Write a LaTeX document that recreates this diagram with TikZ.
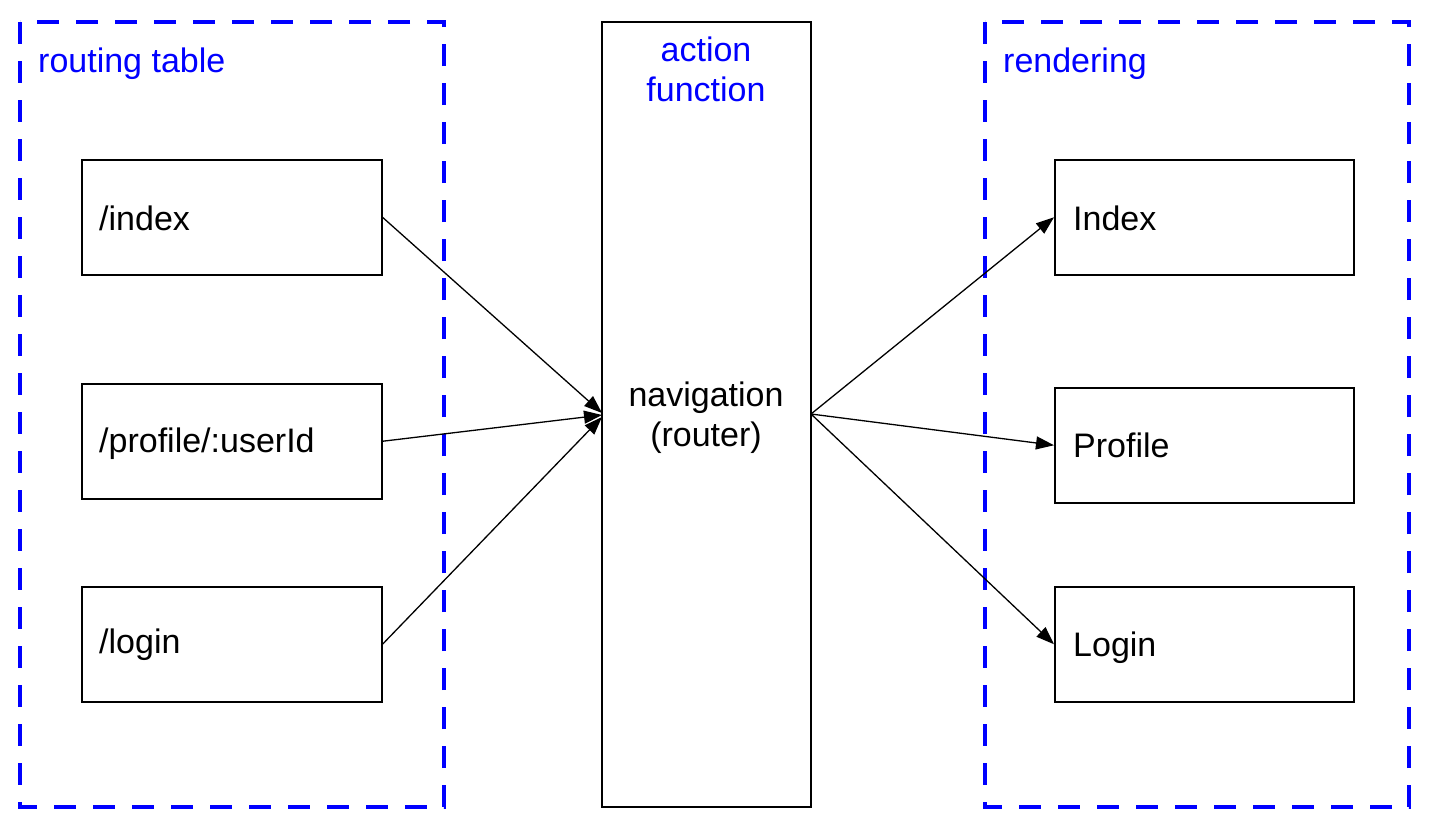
\documentclass[tikz,border=0pt]{standalone}
\usepackage{fontspec}
\setmainfont{Liberation Sans}
\usetikzlibrary{arrows.meta}
\begin{document}
\begin{tikzpicture}[x=1pt,y=-1pt,
  group/.style={draw=blue,line width=4pt,dash pattern=on 22pt off 17pt},
  box/.style={draw=black,line width=1.5pt},
  lbl/.style={anchor=base west,inner sep=0pt,font=\fontsize{34}{40}\selectfont},
  glbl/.style={lbl,text=blue},
  conn/.style={draw=black,line width=1.3pt,-{Triangle[length=18pt,width=13pt]}}]
\useasboundingbox (0,0) rectangle (1440,836);
% group frames
\draw[group] (20,22) rectangle (444,807);
\draw[group] (985,22) rectangle (1409,807);
% centre box
\draw[box] (602,22) rectangle (811,807);
\coordinate (nin1) at (602,413);
\coordinate (nin2) at (602,415);
\coordinate (nin3) at (602,417);
\coordinate (nout) at (811,414);
% left boxes
\node[box,minimum width=300pt,minimum height=115pt,anchor=north west,inner sep=0pt] (idx) at (81,159) {};
\node[box,minimum width=300pt,minimum height=115pt,anchor=north west,inner sep=0pt] (prof) at (81,383) {};
\node[box,minimum width=300pt,minimum height=115pt,anchor=north west,inner sep=0pt] (login) at (81,586) {};
% right boxes
\node[box,minimum width=299pt,minimum height=115pt,anchor=north west,inner sep=0pt] (rIdx) at (1054,159) {};
\node[box,minimum width=299pt,minimum height=115pt,anchor=north west,inner sep=0pt] (rProf) at (1054,387) {};
\node[box,minimum width=299pt,minimum height=115pt,anchor=north west,inner sep=0pt] (rLogin) at (1054,586) {};
% labels
\node[glbl] (tRouting) at (38,72) {routing table};
\node[glbl] (tRendering) at (1003,72) {rendering};
\node[glbl,anchor=base] (tAction1) at (706,61) {action};
\node[glbl,anchor=base] (tAction2) at (706,101) {function};
\node[lbl,anchor=base] (tNav1) at (706,406) {navigation};
\node[lbl,anchor=base] (tNav2) at (706,446) {(router)};
\node[lbl] (tIdx) at (99,230) {/index};
\node[lbl] (tProf) at (99,452) {/profile/:userId};
\node[lbl] (tLogin) at (99,653) {/login};
\node[lbl] (tRIdx) at (1073,230) {Index};
\node[lbl] (tRProf) at (1073,457) {Profile};
\node[lbl] (tRLogin) at (1073,656) {Login};
% connectors
\draw[conn] (idx.east) -- (nin1);
\draw[conn] (prof.east) -- (nin2);
\draw[conn] (login.east) -- (nin3);
\draw[conn] (nout) -- (rIdx.west);
\draw[conn] (nout) -- (rProf.west);
\draw[conn] (nout) -- (rLogin.west);
\end{tikzpicture}
\end{document}
